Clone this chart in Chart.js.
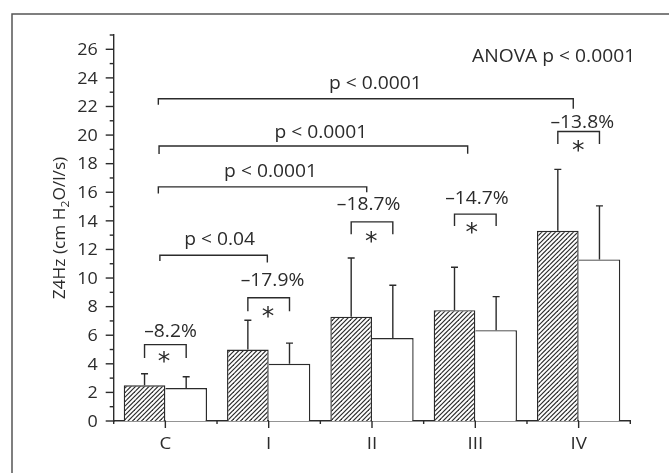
<!DOCTYPE html>
<html>
<head>
<meta charset="utf-8">
<script src="https://cdn.jsdelivr.net/npm/chart.js@4.4.1/dist/chart.umd.min.js"></script>
<style>
  html, body { margin: 0; padding: 0; background: #fff; }
  canvas { display: block; }
</style>
</head>
<body>
<canvas id="chart" width="669" height="473"></canvas>
<script>
// ---- data -------------------------------------------------------------
const categories = ['C', 'I', 'II', 'III', 'IV'];
const hatchedMeans = [2.5, 5.0, 7.3, 7.75, 13.3];
const hatchedErrTop = [3.3, 7.05, 11.4, 10.75, 17.6];   // mean + SD
const openMeans = [2.3, 4.0, 5.8, 6.35, 11.3];
const openErrTop = [3.1, 5.45, 9.5, 8.7, 15.05];        // mean + SD
const changeLabels = ['\u20138.2%', '\u201317.9%', '\u201318.7%', '\u201314.7%', '\u201313.8%'];
const comparisonLabels = ['p < 0.04', 'p < 0.0001', 'p < 0.0001', 'p < 0.0001'];
const anovaLabel = 'ANOVA p < 0.0001';
const yTickLabels = [0, 2, 4, 6, 8, 10, 12, 14, 16, 18, 20, 22, 24, 26];
const yMax = 27;

// ---- annotation layout (axis units: category index / y value) ----------
// brackets from group C to each other group
const pairLayout = [
  { x1: -0.053, x2: 0.987, level: 11.59, drop1: 0.40, drop2: 0.50, lx: 0.525, ly: 12.76 },
  { x1: -0.068, x2: 1.949, level: 16.38, drop1: 0.47, drop2: 0.38, lx: 1.018, ly: 17.51 },
  { x1: -0.061, x2: 2.926, level: 19.24, drop1: 0.56, drop2: 0.54, lx: 1.505, ly: 20.20 },
  { x1: -0.068, x2: 3.948, level: 22.54, drop1: 0.42, drop2: 0.70, lx: 2.033, ly: 23.63 }
];
// within-group brackets (hatched vs open bar)
const changeLayout = [
  { level: 5.34,  legEnd: 4.40,  lx: 0.050,  ly: 6.34,  sx: -0.013, sy: 4.46 },
  { level: 8.62,  legEnd: 7.68,  lx: 0.037,  ly: 9.90,  sx: -0.007, sy: 7.60 },
  { level: 13.93, legEnd: 13.06, lx: -0.033, ly: 15.17, sx: -0.008, sy: 12.90 },
  { level: 14.47, legEnd: 13.64, lx: 0.016,  ly: 15.64, sx: -0.035, sy: 13.53 },
  { level: 20.25, legEnd: 19.38, lx: 0.035,  ly: 20.95, sx: -0.004, sy: 19.25 }
];
const anovaPos = { x: 4.547, y: 25.58 };

// ---- styling -----------------------------------------------------------
const INK = '#2b2b2b';
const LINE = 1.4;
const FONT = '"Open Sans", "Noto Sans", sans-serif';
const WEIGHT = '500 ';
const NOTE = { size: 17.5, sx: 1.1 };   // annotation text
const TICK = { size: 16, sx: 1.12 };    // tick labels
const CAT = { size: 17, sx: 1.1 };      // category labels
const AXIS = { size: 16, sx: 1.08 };    // axis title

function hatchPattern() {
  const t = 9;
  const c = document.createElement('canvas');
  c.width = t; c.height = t;
  const g = c.getContext('2d');
  g.fillStyle = '#fff';
  g.fillRect(0, 0, t, t);
  g.strokeStyle = INK;
  g.lineWidth = 1.2;
  for (let k = -t; k <= 2 * t; k += t / 2) {
    g.beginPath();
    g.moveTo(k + 1, -1);            // line x + y = k, extended past the tile
    g.lineTo(k - t - 1, t + 1);
    g.stroke();
  }
  return g.createPattern(c, 'repeat');
}

function text(ctx, s, x, y, st, align) {
  ctx.save();
  ctx.font = WEIGHT + st.size + 'px ' + FONT;
  ctx.fillStyle = INK;
  ctx.textAlign = align || 'center';
  ctx.textBaseline = 'alphabetic';
  ctx.translate(x, y + st.size * 0.714 / 2);   // y is the cap-height centre
  ctx.scale(st.sx, 1);
  ctx.fillText(s, 0, 0);
  ctx.restore();
}

function star(ctx, x, y) {
  ctx.save();
  ctx.font = '25px "DejaVu Sans", sans-serif';
  ctx.fillStyle = INK;
  ctx.textAlign = 'center';
  ctx.textBaseline = 'alphabetic';
  const m = ctx.measureText('*');
  const off = (m.actualBoundingBoxAscent - m.actualBoundingBoxDescent) / 2;
  ctx.fillText('*', x, y + off);
  ctx.restore();
}

function bracket(ctx, x1, x2, yTop, y1, y2) {
  ctx.beginPath();
  ctx.moveTo(x1, y1);
  ctx.lineTo(x1, yTop);
  ctx.lineTo(x2, yTop);
  ctx.lineTo(x2, y2);
  ctx.stroke();
}

const decor = {
  id: 'decor',
  afterDatasetsDraw(chart) {
    const { ctx, scales: { y } } = chart;
    ctx.save();
    ctx.strokeStyle = INK;
    ctx.lineWidth = LINE;
    [hatchedErrTop, openErrTop].forEach((tops, d) => {
      chart.getDatasetMeta(d).data.forEach((bar, i) => {
        const yt = y.getPixelForValue(tops[i]);
        ctx.beginPath();
        ctx.moveTo(bar.x, bar.y);
        ctx.lineTo(bar.x, yt);
        ctx.moveTo(bar.x - 3.5, yt);
        ctx.lineTo(bar.x + 3.5, yt);
        ctx.stroke();
      });
    });
    ctx.restore();
  },
  afterDraw(chart) {
    const { ctx, scales: { x, y }, chartArea: area } = chart;
    ctx.save();
    ctx.strokeStyle = INK;
    ctx.lineWidth = LINE;

    // outer frame (left and top edges)
    ctx.save();
    ctx.strokeStyle = '#555';
    ctx.lineWidth = 1.5;
    ctx.beginPath();
    ctx.moveTo(12, chart.height + 2);
    ctx.lineTo(12, 14);
    ctx.lineTo(chart.width + 2, 14);
    ctx.stroke();
    ctx.restore();

    // y ticks: long at labelled values, short in between
    y.ticks.forEach(t => {
      const py = y.getPixelForValue(t.value);
      const len = yTickLabels.includes(t.value) ? 8 : 4;
      ctx.beginPath();
      ctx.moveTo(area.left - len, py);
      ctx.lineTo(area.left, py);
      ctx.stroke();
    });
    yTickLabels.forEach(v => {
      text(ctx, String(v), area.left - 16, y.getPixelForValue(v), TICK, 'right');
    });

    // x ticks: long at group centres, short at group boundaries
    categories.forEach((c, i) => {
      const px = x.getPixelForValue(i);
      ctx.beginPath();
      ctx.moveTo(px, area.bottom);
      ctx.lineTo(px, area.bottom + 7);
      ctx.stroke();
      text(ctx, c, px, area.bottom + 22, CAT, 'center');
    });
    for (let i = 0; i <= categories.length; i++) {
      const px = x.getPixelForValue(i - 0.5);
      ctx.beginPath();
      ctx.moveTo(px, area.bottom);
      ctx.lineTo(px, area.bottom + 3);
      ctx.stroke();
    }

    // y axis title with subscript
    ctx.save();
    ctx.translate(59, 228);
    ctx.rotate(-Math.PI / 2);
    ctx.scale(AXIS.sx, 1);
    ctx.fillStyle = INK;
    ctx.textBaseline = 'alphabetic';
    ctx.textAlign = 'left';
    const parts = [
      { s: 'Z4Hz (cm H', f: WEIGHT + AXIS.size + 'px ' + FONT, dy: 0 },
      { s: '2', f: WEIGHT + (AXIS.size * 0.7) + 'px ' + FONT, dy: 4 },
      { s: 'O/l/s)', f: WEIGHT + AXIS.size + 'px ' + FONT, dy: 0 }
    ];
    let total = 0;
    parts.forEach(p => { ctx.font = p.f; p.w = ctx.measureText(p.s).width; total += p.w; });
    let cx = -total / 2;
    parts.forEach(p => {
      ctx.font = p.f;
      ctx.fillText(p.s, cx, AXIS.size * 0.714 / 2 + p.dy);
      cx += p.w;
    });
    ctx.restore();

    // comparisons against group C
    pairLayout.forEach((b, k) => {
      const yTop = y.getPixelForValue(b.level);
      bracket(ctx, x.getPixelForValue(b.x1), x.getPixelForValue(b.x2), yTop,
        y.getPixelForValue(b.level - b.drop1), y.getPixelForValue(b.level - b.drop2));
      text(ctx, comparisonLabels[k], x.getPixelForValue(b.lx), y.getPixelForValue(b.ly), NOTE, 'center');
    });

    // within-group changes
    const mh = chart.getDatasetMeta(0).data;
    const mo = chart.getDatasetMeta(1).data;
    changeLayout.forEach((b, i) => {
      const yTop = y.getPixelForValue(b.level);
      const yEnd = y.getPixelForValue(b.legEnd);
      bracket(ctx, mh[i].x, mo[i].x, yTop, yEnd, yEnd);
      text(ctx, changeLabels[i], x.getPixelForValue(i + b.lx), y.getPixelForValue(b.ly), NOTE, 'center');
      star(ctx, x.getPixelForValue(i + b.sx), y.getPixelForValue(b.sy));
    });

    text(ctx, anovaLabel, x.getPixelForValue(anovaPos.x), y.getPixelForValue(anovaPos.y), NOTE, 'right');
    ctx.restore();
  }
};

new Chart(document.getElementById('chart'), {
  type: 'bar',
  data: {
    labels: categories,
    datasets: [
      {
        data: hatchedMeans,
        backgroundColor: hatchPattern(),
        borderColor: INK,
        borderWidth: LINE,
        borderSkipped: 'start',
        categoryPercentage: 0.806,
        barPercentage: 1
      },
      {
        data: openMeans,
        backgroundColor: '#ffffff',
        borderColor: INK,
        borderWidth: { top: LINE, right: LINE, left: 0, bottom: 0 },
        borderSkipped: 'start',
        categoryPercentage: 0.806,
        barPercentage: 1
      }
    ]
  },
  options: {
    responsive: false,
    animation: false,
    devicePixelRatio: 1,
    layout: { padding: { top: 35, right: 38.7, left: 0, bottom: 0 } },
    plugins: { legend: { display: false }, tooltip: { enabled: false } },
    scales: {
      x: {
        offset: true,
        z: 1,
        grid: { display: false, drawTicks: false },
        ticks: { display: false },
        border: { color: INK, width: LINE },
        afterFit(s) { s.height = 52; }
      },
      y: {
        min: 0,
        max: yMax,
        z: 1,
        grid: { display: false, drawTicks: false },
        ticks: { display: false, stepSize: 1 },
        border: { color: INK, width: LINE },
        afterFit(s) { s.width = 113.7; }
      }
    }
  },
  plugins: [decor]
});
</script>
</body>
</html>
